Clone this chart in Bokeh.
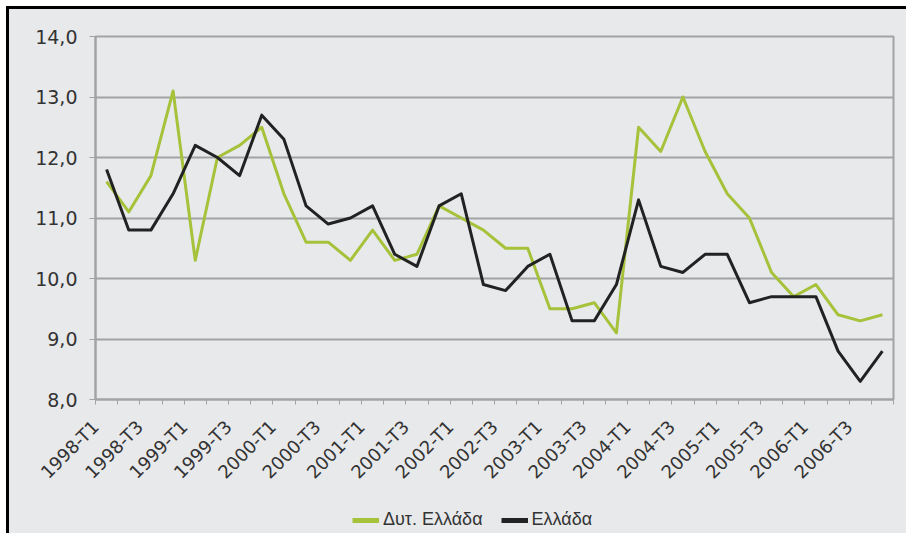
from math import pi
from bokeh.plotting import figure
from bokeh.layouts import column
from bokeh.models import Range1d, FixedTicker, Legend, LegendItem
from bokeh.embed import file_html
from bokeh.resources import INLINE

quarters = [
    "1998-T1", "1998-T2", "1998-T3", "1998-T4",
    "1999-T1", "1999-T2", "1999-T3", "1999-T4",
    "2000-T1", "2000-T2", "2000-T3", "2000-T4",
    "2001-T1", "2001-T2", "2001-T3", "2001-T4",
    "2002-T1", "2002-T2", "2002-T3", "2002-T4",
    "2003-T1", "2003-T2", "2003-T3", "2003-T4",
    "2004-T1", "2004-T2", "2004-T3", "2004-T4",
    "2005-T1", "2005-T2", "2005-T3", "2005-T4",
    "2006-T1", "2006-T2", "2006-T3", "2006-T4",
]
west_greece = [11.6, 11.1, 11.7, 13.1, 10.3, 12.0, 12.2, 12.5,
               11.4, 10.6, 10.6, 10.3, 10.8, 10.3, 10.4, 11.2,
               11.0, 10.8, 10.5, 10.5, 9.5, 9.5, 9.6, 9.1,
               12.5, 12.1, 13.0, 12.1, 11.4, 11.0, 10.1, 9.7,
               9.9, 9.4, 9.3, 9.4]
greece = [11.8, 10.8, 10.8, 11.4, 12.2, 12.0, 11.7, 12.7,
          12.3, 11.2, 10.9, 11.0, 11.2, 10.4, 10.2, 11.2,
          11.4, 9.9, 9.8, 10.2, 10.4, 9.3, 9.3, 9.9,
          11.3, 10.2, 10.1, 10.4, 10.4, 9.6, 9.7, 9.7,
          9.7, 8.8, 8.3, 8.8]
y_ticks = [8, 9, 10, 11, 12, 13, 14]
y_tick_labels = ["8,0", "9,0", "10,0", "11,0", "12,0", "13,0", "14,0"]
series_names = ["Δυτ. Ελλάδα", "Ελλάδα"]
series_colors = ["#a6c23a", "#222222"]

FONT = "DejaVu Sans"
LFONT = "Liberation Sans"
BG = "#e8e9eb"
GRID = "#a2a3a5"

xs = list(range(len(quarters)))

p = figure(width=897, height=484, output_backend="svg", toolbar_location=None,
           x_range=Range1d(-0.5, len(quarters) - 0.5), y_range=Range1d(8, 14),
           min_border_left=86, min_border_right=13, min_border_top=27,
           min_border_bottom=94)
p.background_fill_color = BG
p.border_fill_color = BG
p.outline_line_color = GRID
p.outline_line_width = 2

g = p.line(xs, west_greece, line_color=series_colors[0], line_width=3, line_join="round")
b = p.line(xs, greece, line_color=series_colors[1], line_width=3, line_join="round")

# x axis: label every second quarter
label_idx = xs[::2]
label_pos = [i - 0.5 for i in label_idx]
p.xaxis.ticker = FixedTicker(ticks=label_pos,
                             minor_ticks=[i - 0.5 for i in range(len(quarters) + 1)])
p.xaxis.major_label_overrides = {pos: quarters[i] for pos, i in zip(label_pos, label_idx)}
p.xaxis.major_label_orientation = pi / 4
p.xaxis.major_tick_out = 0
p.xaxis.major_tick_in = 0
p.xaxis.minor_tick_out = 5
p.xaxis.minor_tick_in = 0
p.xaxis.minor_tick_line_color = GRID
p.xaxis.axis_line_color = GRID
p.xaxis.axis_line_width = 2
p.xaxis.major_label_standoff = 19
p.xaxis.major_label_text_font = FONT
p.xaxis.major_label_text_font_size = "18px"
p.xaxis.major_label_text_color = "#333333"

# y axis
p.yaxis.ticker = FixedTicker(ticks=y_ticks)
p.yaxis.major_label_overrides = {t: l for t, l in zip(y_ticks, y_tick_labels)}
p.yaxis.major_tick_out = 6
p.yaxis.major_tick_in = 0
p.yaxis.minor_tick_out = 0
p.yaxis.minor_tick_in = 0
p.yaxis.major_tick_line_color = GRID
p.yaxis.axis_line_color = GRID
p.yaxis.axis_line_width = 2
p.yaxis.major_label_standoff = 12
p.yaxis.major_label_text_font = FONT
p.yaxis.major_label_text_font_size = "19px"
p.yaxis.major_label_text_color = "#333333"

p.xgrid.grid_line_color = None
p.ygrid.grid_line_color = GRID
p.ygrid.grid_line_width = 2

# legend strip below the chart (series drawn here lie outside its view range)
pl = figure(width=897, height=40, output_backend="svg", toolbar_location=None,
            x_range=Range1d(-0.5, len(quarters) - 0.5), y_range=Range1d(0, 1),
            x_axis_type=None, y_axis_type=None, min_border=0)
pl.background_fill_color = None
pl.border_fill_color = None
pl.outline_line_color = None
lg = pl.line(xs, west_greece, line_color=series_colors[0], line_width=5)
lb = pl.line(xs, greece, line_color=series_colors[1], line_width=5)
legend = Legend(items=[LegendItem(label=series_names[0], renderers=[lg]),
                       LegendItem(label=series_names[1], renderers=[lb])],
                orientation="horizontal", location=(257, 3),
                background_fill_alpha=0, border_line_color=None,
                label_text_font=LFONT, label_text_font_size="18px",
                label_text_color="#333333", glyph_width=27, glyph_height=18,
                label_standoff=4, spacing=18, padding=0, margin=0)
pl.add_layout(legend, "center")

layout = column(p, pl, spacing=0)
layout.styles = {"border-top": "3px solid #000", "border-left": "3px solid #000",
                 "margin-top": "6px", "margin-left": "6px",
                 "background-color": BG}

open("out.html", "w").write(file_html(layout, INLINE))
